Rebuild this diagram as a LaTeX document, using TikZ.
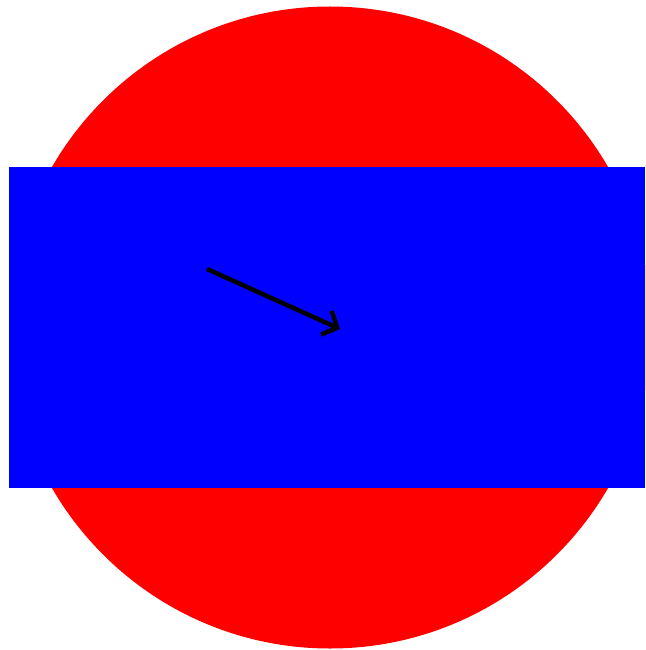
\documentclass[tikz,border=0pt]{standalone}
\usetikzlibrary{arrows.meta}
\begin{document}
\begin{tikzpicture}[x=1pt,y=-1pt,
  disc/.style={fill=red,draw=none},
  band/.style={fill=blue,draw=none},
  pointer/.style={draw=black,line width=4.5pt,-{Straight Barb[length=12pt,width=26pt,line width=4.5pt]}}]
\useasboundingbox (0,0) rectangle (645,650);
\clip (0,0) rectangle (645,650);
\fill[disc] (330,327.5) circle[radius=321];
\fill[band] (9,167) rectangle (645,488);
\coordinate (s) at (207,269);
\coordinate (e) at (340,329);
\draw[pointer] (s) -- (e);
\end{tikzpicture}
\end{document}
